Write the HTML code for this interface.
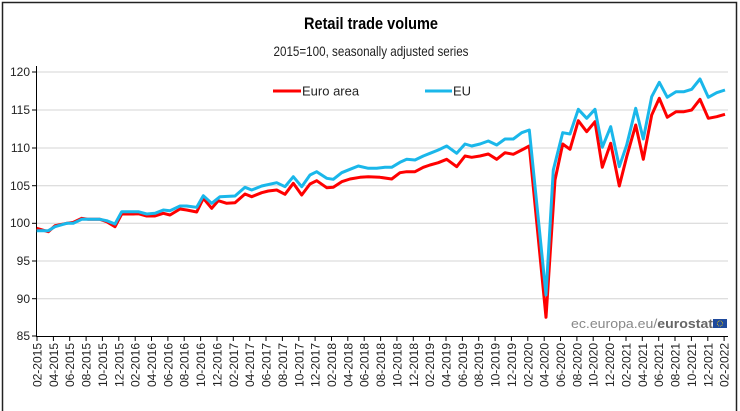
<!DOCTYPE html>
<html><head><meta charset="utf-8"><style>
html,body{margin:0;padding:0;background:#fff;}
svg{display:block;font-family:"Liberation Sans",Arial,sans-serif;}
</style></head><body>
<svg width="740" height="411" viewBox="0 0 740 411" xmlns="http://www.w3.org/2000/svg">
<rect x="2.5" y="2.5" width="734" height="420" fill="#fff" stroke="#222" stroke-width="1.5"/>
<text x="371" y="29" text-anchor="middle" font-size="17" font-weight="bold" textLength="134" lengthAdjust="spacingAndGlyphs">Retail trade volume</text>
<text x="371" y="56" text-anchor="middle" font-size="14" textLength="195" lengthAdjust="spacingAndGlyphs" fill="#222">2015=100, seasonally adjusted series</text>
<g stroke="#d4d4d4" stroke-width="1">
<line x1="36" x2="728" y1="72" y2="72"/><line x1="36" x2="728" y1="110" y2="110"/><line x1="36" x2="728" y1="148" y2="148"/><line x1="36" x2="728" y1="185.7" y2="185.7"/><line x1="36" x2="728" y1="223.3" y2="223.3"/><line x1="36" x2="728" y1="261" y2="261"/><line x1="36" x2="728" y1="298.7" y2="298.7"/>
</g>
<g stroke="#000" stroke-width="1">
<line x1="36.5" x2="36.5" y1="66" y2="336"/>
<line x1="36" x2="728" y1="336.5" y2="336.5"/>
<line x1="32" x2="36" y1="72" y2="72"/><line x1="32" x2="36" y1="110" y2="110"/><line x1="32" x2="36" y1="148" y2="148"/><line x1="32" x2="36" y1="185.7" y2="185.7"/><line x1="32" x2="36" y1="223.3" y2="223.3"/><line x1="32" x2="36" y1="261" y2="261"/><line x1="32" x2="36" y1="298.7" y2="298.7"/><line x1="32" x2="36" y1="336" y2="336"/>
</g>
<g font-size="12" fill="#222" text-anchor="end">
<text x="30" y="76">120</text><text x="30" y="114">115</text><text x="30" y="152">110</text><text x="30" y="190">105</text><text x="30" y="227">100</text><text x="30" y="265">95</text><text x="30" y="303">90</text><text x="30" y="340">85</text>
</g>
<g stroke="#000" stroke-width="1">
<line x1="37" x2="37" y1="336" y2="341"/><line x1="53.4" x2="53.4" y1="336" y2="341"/><line x1="69.7" x2="69.7" y1="336" y2="341"/><line x1="86.1" x2="86.1" y1="336" y2="341"/><line x1="102.4" x2="102.4" y1="336" y2="341"/><line x1="118.8" x2="118.8" y1="336" y2="341"/><line x1="135.2" x2="135.2" y1="336" y2="341"/><line x1="151.5" x2="151.5" y1="336" y2="341"/><line x1="167.9" x2="167.9" y1="336" y2="341"/><line x1="184.2" x2="184.2" y1="336" y2="341"/><line x1="200.6" x2="200.6" y1="336" y2="341"/><line x1="217" x2="217" y1="336" y2="341"/><line x1="233.3" x2="233.3" y1="336" y2="341"/><line x1="249.7" x2="249.7" y1="336" y2="341"/><line x1="266" x2="266" y1="336" y2="341"/><line x1="282.4" x2="282.4" y1="336" y2="341"/><line x1="298.8" x2="298.8" y1="336" y2="341"/><line x1="315.1" x2="315.1" y1="336" y2="341"/><line x1="331.5" x2="331.5" y1="336" y2="341"/><line x1="347.8" x2="347.8" y1="336" y2="341"/><line x1="364.2" x2="364.2" y1="336" y2="341"/><line x1="380.6" x2="380.6" y1="336" y2="341"/><line x1="396.9" x2="396.9" y1="336" y2="341"/><line x1="413.3" x2="413.3" y1="336" y2="341"/><line x1="429.6" x2="429.6" y1="336" y2="341"/><line x1="446" x2="446" y1="336" y2="341"/><line x1="462.4" x2="462.4" y1="336" y2="341"/><line x1="478.7" x2="478.7" y1="336" y2="341"/><line x1="495.1" x2="495.1" y1="336" y2="341"/><line x1="511.4" x2="511.4" y1="336" y2="341"/><line x1="527.8" x2="527.8" y1="336" y2="341"/><line x1="544.2" x2="544.2" y1="336" y2="341"/><line x1="560.5" x2="560.5" y1="336" y2="341"/><line x1="576.9" x2="576.9" y1="336" y2="341"/><line x1="593.2" x2="593.2" y1="336" y2="341"/><line x1="609.6" x2="609.6" y1="336" y2="341"/><line x1="626" x2="626" y1="336" y2="341"/><line x1="642.3" x2="642.3" y1="336" y2="341"/><line x1="658.7" x2="658.7" y1="336" y2="341"/><line x1="675" x2="675" y1="336" y2="341"/><line x1="691.4" x2="691.4" y1="336" y2="341"/><line x1="707.8" x2="707.8" y1="336" y2="341"/><line x1="724.1" x2="724.1" y1="336" y2="341"/>
</g>
<g transform="rotate(-90)" font-size="12" fill="#222" text-anchor="end">
<text x="-343" y="41.5">02-2015</text><text x="-343" y="57.9">04-2015</text><text x="-343" y="74.2">06-2015</text><text x="-343" y="90.6">08-2015</text><text x="-343" y="106.9">10-2015</text><text x="-343" y="123.3">12-2015</text>
<text x="-343" y="139.7">02-2016</text><text x="-343" y="156">04-2016</text><text x="-343" y="172.4">06-2016</text><text x="-343" y="188.7">08-2016</text><text x="-343" y="205.1">10-2016</text><text x="-343" y="221.5">12-2016</text>
<text x="-343" y="237.8">02-2017</text><text x="-343" y="254.2">04-2017</text><text x="-343" y="270.5">06-2017</text><text x="-343" y="286.9">08-2017</text><text x="-343" y="303.3">10-2017</text><text x="-343" y="319.6">12-2017</text>
<text x="-343" y="336">02-2018</text><text x="-343" y="352.3">04-2018</text><text x="-343" y="368.7">06-2018</text><text x="-343" y="385.1">08-2018</text><text x="-343" y="401.4">10-2018</text><text x="-343" y="417.8">12-2018</text>
<text x="-343" y="434.1">02-2019</text><text x="-343" y="450.5">04-2019</text><text x="-343" y="466.9">06-2019</text><text x="-343" y="483.2">08-2019</text><text x="-343" y="499.6">10-2019</text><text x="-343" y="515.9">12-2019</text>
<text x="-343" y="532.3">02-2020</text><text x="-343" y="548.7">04-2020</text><text x="-343" y="565">06-2020</text><text x="-343" y="581.4">08-2020</text><text x="-343" y="597.7">10-2020</text><text x="-343" y="614.1">12-2020</text>
<text x="-343" y="630.5">02-2021</text><text x="-343" y="646.8">04-2021</text><text x="-343" y="663.2">06-2021</text><text x="-343" y="679.5">08-2021</text><text x="-343" y="695.9">10-2021</text><text x="-343" y="712.3">12-2021</text>
<text x="-343" y="728.6">02-2022</text>
</g>
<polyline fill="none" stroke="#ff0000" stroke-width="3" stroke-linejoin="round" points="36.7,228.3 48.3,231.7 55,225.7 66.7,223.3 73.3,222.3 81.7,218.3 88.3,219.3 100,219.3 106.7,221.7 115,226.7 121.7,214 133.3,214 138.3,213.7 146.7,216 155,216 163.3,213.3 170,215 180,209 186.7,210 196.7,212 203.3,198.3 211.7,208.3 218.3,200.7 226.7,203.3 235,202.7 245,194 251.7,196.7 261.7,192.7 268.3,191 276.7,190 285,194.3 293.3,183.3 301.7,195 310,184 316.7,180.7 326.7,187.7 333.3,187.3 341.7,181.7 350,179 360,177.3 368.3,176.7 380,177.3 391.7,179 400,172.7 406.7,171.7 415,171.7 423.3,167.3 430,165 438.3,162.7 446.7,159.3 456.7,166.7 465,156 471.7,157.3 480,156 488.3,154 496.7,159.3 505,152.7 513.3,154.3 521.7,150 529.3,146 546,317.3 555,180 562.7,144 570,149.3 578.3,120.7 586.7,131.7 595,121.7 602.3,167.3 610.7,143.3 619.3,186 626.7,156.7 635.7,125 643.3,159.3 651.7,115 659.3,98.3 667.3,117.3 676,111.7 684,111.7 691.7,110 700,99.3 708.3,118.3 716.7,116.7 725,114.3"/>
<polyline fill="none" stroke="#1ab7ea" stroke-width="3" stroke-linejoin="round" points="36.7,230.7 48.3,230.7 55,226.7 66.7,223.3 73.3,223.3 81.7,219.3 100,219.3 106.7,220.7 115,224 121.7,211.7 138.3,211.7 146.7,214 155,213.3 163.3,210 170,210.7 180,206 186.7,206 196.7,207.3 203.3,195.7 211.7,203.3 220,196.7 235,196 245,187.3 251.7,190 261.7,186 276.7,182.7 285,186.7 293.3,176.7 301.7,186.7 310,175 316.7,171.7 326.7,178.3 333.3,179.3 341.7,172.7 350,169.3 358.3,166 368.3,168.3 376.7,168.3 385,167.3 391.7,167.3 400,162.3 406.7,159.3 415,160 423.3,156 430,153.3 438.3,150 446.7,146 456.7,153.3 465,144 471.7,146 480,144 488.3,141 496.7,145 505,139 513.3,139 521.7,132.7 529.3,130 546,295 553.3,170 562.7,132.7 570,134 578.3,109.3 586.7,118.3 595,109.3 602.3,147.3 610.7,126.7 619.3,166.7 626.7,145 635.7,108.3 643.3,139 651.7,96.7 659.3,82.3 667.3,97.3 676,91.7 684,91.7 691.7,89.3 700,79 708.3,97.3 716.7,92.7 725,90"/>
<line x1="273" x2="301" y1="91" y2="91" stroke="#ff0000" stroke-width="3"/>
<text x="302" y="95.5" font-size="13" fill="#222">Euro area</text>
<line x1="425" x2="452" y1="91" y2="91" stroke="#1ab7ea" stroke-width="3"/>
<text x="453" y="95.5" font-size="13" fill="#222">EU</text>
<text x="571" y="328" font-size="13" fill="#888" textLength="142" lengthAdjust="spacingAndGlyphs">ec.europa.eu/<tspan font-weight="bold" fill="#666">eurostat</tspan></text>
<rect x="713" y="319" width="14" height="9" fill="#1f4a9c"/>
<circle cx="720" cy="323.5" r="2.7" fill="none" stroke="#f5d000" stroke-width="0.8" stroke-dasharray="0.8 0.9"/>
</svg>
</body></html>
